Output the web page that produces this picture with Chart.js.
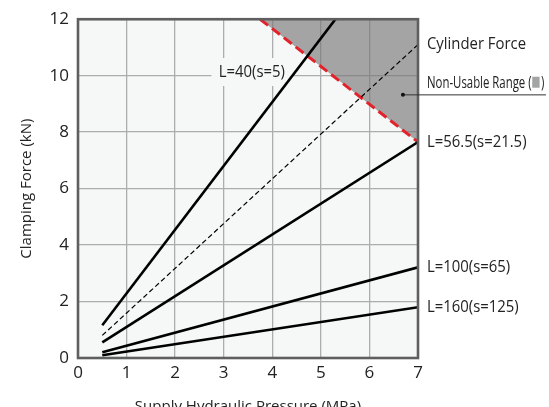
<!DOCTYPE html>
<html>
<head>
<meta charset="utf-8">
<script src="https://cdn.jsdelivr.net/npm/chart.js@4.4.1/dist/chart.umd.min.js"></script>
<style>
  html, body { margin: 0; padding: 0; background: #fff; }
  #wrap { width: 549px; height: 407px; }
</style>
</head>
<body>
<div id="wrap"><canvas id="clampChart" width="549" height="407"></canvas></div>
<script>
// supply pressure (MPa) at the two ends of each line
const pressure = [0.5, 7];
const pressureL40 = [0.5, 5.3];
// clamping force (kN)
const forceL40 = [1.16, 12];
const forceCylinder = [0.8, 11.1];
const forceL56 = [0.55, 7.65];
const forceL100 = [0.2, 3.21];
const forceL160 = [0.1, 1.8];
// red limit line, everything above it is the non-usable range
const limitPressure = [3.75, 7];
const limitForce = [12, 7.65];
// axis ticks
const xTicks = [0, 1, 2, 3, 4, 5, 6, 7];
const yTicks = [0, 2, 4, 6, 8, 10, 12];

const FONT = '"Open Sans", "Noto Sans", sans-serif';
const TEXT = '#222';

function toPoints(xs, ys) {
  return xs.map((x, i) => ({ x: x, y: ys[i] }));
}

function solidLine(label, xs, ys) {
  return {
    label: label,
    data: toPoints(xs, ys),
    borderColor: '#000',
    borderWidth: 2.6,
    pointRadius: 0,
    fill: false
  };
}

// label anchors in data units (pressure, force)
const sideLabels = [
  { text: 'Cylinder Force', y: 11.12 },
  { text: 'L=56.5(s=21.5)', y: 7.65 },
  { text: 'L=100(s=65)', y: 3.21 },
  { text: 'L=160(s=125)', y: 1.8 }
];
const l40Label = { text: 'L=40(s=5)', x: 3.58, y: 10.13 };
const rangeLabel = { y: 9.75, dotX: 6.69, dotY: 9.32 };

// backgrounds, border and annotation texts
const chartDecor = {
  id: 'chartDecor',
  beforeDraw(chart) {
    const { ctx, chartArea: a } = chart;
    ctx.save();
    ctx.fillStyle = '#f6f7f7';
    ctx.fillRect(a.left, a.top, a.right - a.left, a.bottom - a.top);
    ctx.restore();
  },
  beforeDatasetsDraw(chart) {
    const { ctx, scales: { x, y } } = chart;
    const px = x.getPixelForValue(l40Label.x);
    const py = y.getPixelForValue(l40Label.y);
    ctx.save();
    ctx.translate(px, py);
    ctx.scale(0.93, 1);
    ctx.font = '16px ' + FONT;
    const w = ctx.measureText(l40Label.text).width;
    ctx.fillStyle = '#f6f7f7';
    ctx.fillRect(-w / 2 - 8, -14, w + 16, 28);
    ctx.fillStyle = TEXT;
    ctx.textAlign = 'center';
    ctx.textBaseline = 'middle';
    ctx.fillText(l40Label.text, 0, 0);
    ctx.restore();
  },
  afterDraw(chart) {
    const { ctx, chartArea: a, scales: { x, y } } = chart;
    ctx.save();
    // frame
    ctx.strokeStyle = '#5f5f5f';
    ctx.lineWidth = 2.6;
    ctx.strokeRect(a.left, a.top, a.right - a.left, a.bottom - a.top);

    // labels at the right end of the lines
    const lx = a.right + 9;
    ctx.fillStyle = TEXT;
    ctx.textAlign = 'left';
    ctx.textBaseline = 'middle';
    sideLabels.forEach(l => {
      ctx.save();
      ctx.translate(lx, y.getPixelForValue(l.y));
      ctx.scale(0.93, 1);
      ctx.font = '16px ' + FONT;
      ctx.fillText(l.text, 0, 0);
      ctx.restore();
    });

    // non-usable range label with leader line
    const ry = y.getPixelForValue(rangeLabel.y);
    ctx.save();
    ctx.translate(lx, ry);
    ctx.scale(0.67, 1);
    ctx.font = '17px ' + FONT;
    const t = 'Non-Usable Range (';
    ctx.fillText(t, 0, 0);
    let off = ctx.measureText(t).width + 1;
    ctx.fillStyle = '#a3a5a4';
    ctx.fillRect(off, -6, 11, 11);
    off += 13;
    ctx.fillStyle = TEXT;
    ctx.fillText(')', off, 0);
    ctx.restore();

    const dx = x.getPixelForValue(rangeLabel.dotX);
    const dy = y.getPixelForValue(rangeLabel.dotY);
    ctx.strokeStyle = '#333';
    ctx.lineWidth = 1;
    ctx.beginPath();
    ctx.moveTo(dx, dy);
    ctx.lineTo(chart.width - 3, dy);
    ctx.stroke();
    ctx.fillStyle = '#111';
    ctx.beginPath();
    ctx.arc(dx, dy, 2, 0, Math.PI * 2);
    ctx.fill();
    ctx.restore();
  }
};

const ctx = document.getElementById('clampChart').getContext('2d');
window.clampChart = new Chart(ctx, {
  type: 'line',
  data: {
    datasets: [
      solidLine('L=40(s=5)', pressureL40, forceL40),
      {
        label: 'Cylinder Force',
        data: toPoints(pressure, forceCylinder),
        borderColor: '#000',
        borderWidth: 1.2,
        borderDash: [5, 3],
        pointRadius: 0,
        fill: false
      },
      solidLine('L=56.5(s=21.5)', pressure, forceL56),
      solidLine('L=100(s=65)', pressure, forceL100),
      solidLine('L=160(s=125)', pressure, forceL160),
      {
        label: 'Non-Usable Range',
        data: toPoints(limitPressure, limitForce),
        borderColor: '#e3232b',
        borderWidth: 3,
        borderDash: [10, 5],
        pointRadius: 0,
        fill: 'end',
        backgroundColor: 'rgba(118,120,119,0.65)'
      }
    ]
  },
  options: {
    responsive: false,
    animation: false,
    layout: { padding: { top: 18, right: 131, left: 0, bottom: 0 } },
    plugins: {
      legend: { display: false },
      tooltip: { enabled: false }
    },
    scales: {
      x: {
        type: 'linear',
        min: 0,
        max: 7,
        afterBuildTicks: s => { s.ticks = xTicks.map(v => ({ value: v })); },
        afterFit: s => { s.height = 49; },
        grid: { color: '#adadad', lineWidth: 1.3, drawTicks: false },
        border: { display: false },
        ticks: { color: TEXT, font: { family: FONT, size: 17 }, padding: 5, maxRotation: 0 },
        title: {
          display: true,
          text: 'Supply Hydraulic Pressure (MPa)',
          color: TEXT,
          font: { family: FONT, size: 15 },
          padding: { top: 0, bottom: -9 }
        }
      },
      y: {
        type: 'linear',
        min: 0,
        max: 12,
        afterBuildTicks: s => { s.ticks = yTicks.map(v => ({ value: v })); },
        afterFit: s => { s.width = 78; },
        grid: { color: '#adadad', lineWidth: 1.3, drawTicks: false },
        border: { display: false },
        ticks: { color: TEXT, font: { family: FONT, size: 17 }, padding: 9 },
        title: {
          display: true,
          text: 'Clamping Force (kN)',
          color: TEXT,
          font: { family: FONT, size: 15 },
          padding: { top: 18, bottom: 0 }
        }
      }
    }
  },
  plugins: [chartDecor]
});
</script>
</body>
</html>
